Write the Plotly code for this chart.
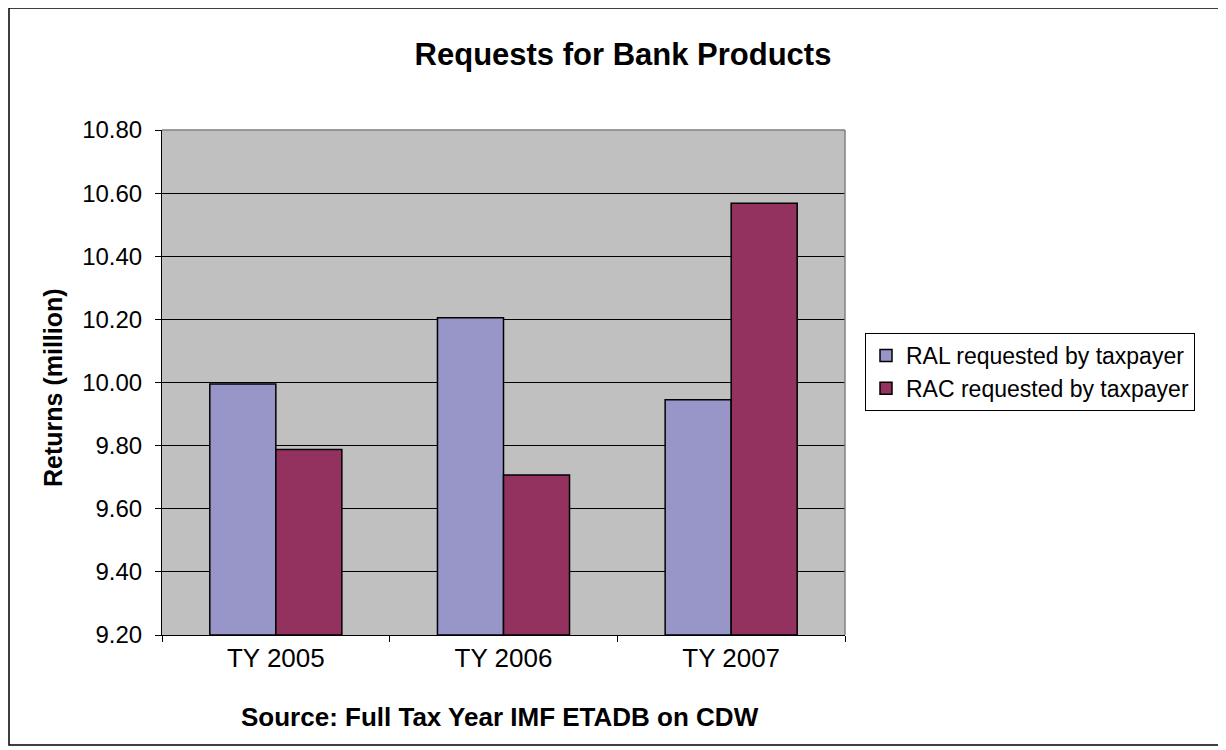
import plotly.graph_objects as go

categories = ["TY 2005", "TY 2006", "TY 2007"]
ral_values = [9.995, 10.205, 9.945]
rac_values = [9.788, 9.707, 10.568]
series_names = ["RAL requested by taxpayer", "RAC requested by taxpayer"]
y_ticks = [9.20, 9.40, 9.60, 9.80, 10.00, 10.20, 10.40, 10.60, 10.80]

O = 8  # page body margin offset
W, H = 1226 - O, 750 - O
L, R, T, B = 162 - O, 845 - O, 130 - O, 635 - O  # plot area in figure pixels


def px(xp):
    return (xp - O - L) / (R - L)


def py(yp):
    return (B - (yp - O)) / (B - T)


FONT = "Arial, Liberation Sans, sans-serif"

fig = go.Figure()
fig.add_trace(go.Bar(x=categories, y=[v - y_ticks[0] for v in ral_values], base=y_ticks[0],
                     name=series_names[0], marker=dict(color="#9896C8", line=dict(color="black", width=1.5))))
fig.add_trace(go.Bar(x=categories, y=[v - y_ticks[0] for v in rac_values], base=y_ticks[0],
                     name=series_names[1], marker=dict(color="#93325F", line=dict(color="black", width=1.5))))

fig.update_layout(
    width=W, height=H,
    margin=dict(l=L, r=W - R, t=T, b=H - B),
    paper_bgcolor="white",
    plot_bgcolor="#C0C0C0",
    barmode="group",
    bargap=0.42,
    bargroupgap=0,
    font=dict(family=FONT, color="black"),
    title=dict(text="<b>Requests for Bank Products</b>", x=(623 - O) / W, xanchor="center",
               y=1 - (54 - O) / H, yanchor="middle", font=dict(size=31, family=FONT, color="black")),
    legend=dict(x=px(865), y=py(372), xanchor="left", yanchor="middle",
                bordercolor="black", borderwidth=1, bgcolor="white",
                font=dict(size=23, family=FONT, color="black"),
                tracegroupgap=0),
    showlegend=True,
)

fig.update_xaxes(
    type="category",
    tickson="boundaries",
    ticks="outside", ticklen=6, tickcolor="black", tickwidth=1,
    showline=True, linecolor="black", linewidth=1,
    showgrid=False,
    tickfont=dict(size=26, family=FONT, color="black"),
)
fig.update_yaxes(
    range=[y_ticks[0], y_ticks[-1]],
    tickvals=y_ticks,
    ticktext=[f"{v:.2f}" for v in y_ticks],
    ticks="outside", ticklen=6, tickcolor="black", tickwidth=1,
    ticklabelstandoff=8,
    showline=True, linecolor="black", linewidth=1,
    showgrid=True, gridcolor="black", gridwidth=1,
    zeroline=False,
    tickfont=dict(size=24, family=FONT, color="black"),
)

# plot area top/right border (gray)
fig.add_shape(type="line", xref="paper", yref="paper", x0=0, x1=1, y0=1, y1=1,
              line=dict(color="#808080", width=1.5))
fig.add_shape(type="line", xref="paper", yref="paper", x0=1, x1=1, y0=0, y1=1,
              line=dict(color="#808080", width=1.5))
# outer frame
fig.add_shape(type="rect", xref="paper", yref="paper",
              x0=px(9), x1=px(1222), y0=py(745), y1=py(8),
              line=dict(color="black", width=1.5))

fig.add_annotation(text="<b>Returns (million)</b>", xref="paper", yref="paper",
                   x=px(53), y=py(388), textangle=-90, showarrow=False,
                   xanchor="center", yanchor="middle",
                   font=dict(size=25, family=FONT, color="black"))
fig.add_annotation(text="<b>Source: Full Tax Year IMF ETADB on CDW</b>", xref="paper", yref="paper",
                   x=px(500), y=py(717), showarrow=False,
                   xanchor="center", yanchor="middle",
                   font=dict(size=26, family=FONT, color="black"))

fig.write_html("out.html")
